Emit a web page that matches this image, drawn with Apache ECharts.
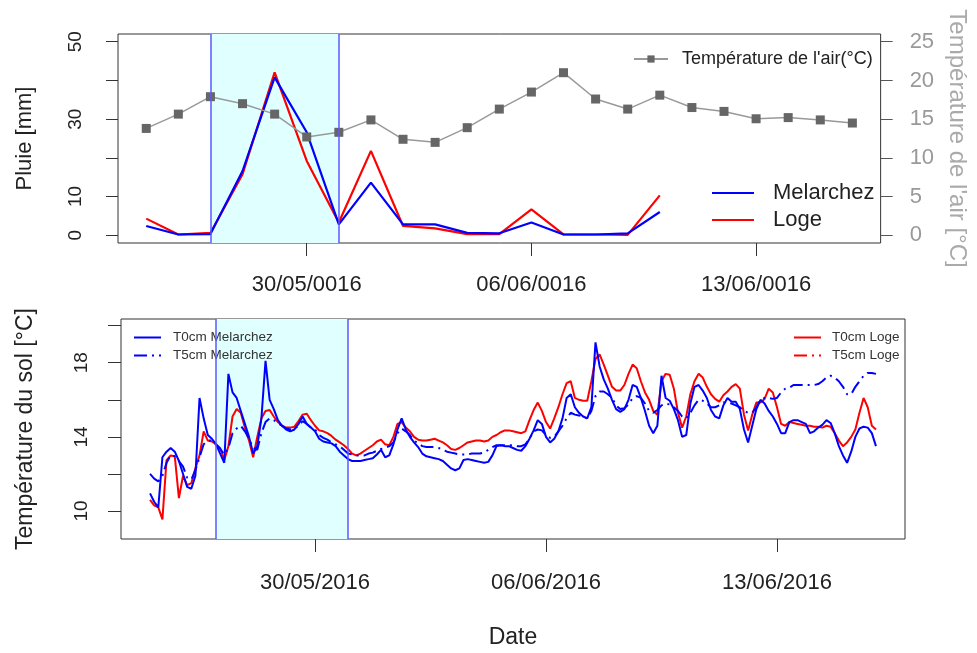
<!DOCTYPE html>
<html>
<head>
<meta charset="utf-8">
<script src="https://cdn.jsdelivr.net/npm/echarts@6/dist/echarts.min.js"></script>
<style>html,body{margin:0;padding:0;background:#fff}#c{width:977px;height:653px}</style>
</head>
<body>
<div id="c"></div>
<script>
// ---------- data ----------
const airDays = ['2016-05-25','2016-05-26','2016-05-27','2016-05-28','2016-05-29','2016-05-30','2016-05-31',
  '2016-06-01','2016-06-02','2016-06-03','2016-06-04','2016-06-05','2016-06-06','2016-06-07','2016-06-08',
  '2016-06-09','2016-06-10','2016-06-11','2016-06-12','2016-06-13','2016-06-14','2016-06-15','2016-06-16'];
const airTemp = [13.8, 15.65, 17.9, 17.0, 15.65, 12.7, 13.3, 14.9, 12.4, 12.0, 13.9, 16.3, 18.5, 21.0, 17.6,
  16.3, 18.1, 16.5, 16.0, 15.05, 15.2, 14.9, 14.5];
const rainDays = airDays.slice(0, 17);
const rainMelarchez = [2.4, 0.2, 0.3, 16.6, 40.8, 26.6, 2.8, 13.6, 2.8, 2.8, 0.6, 0.5, 3.3, 0.2, 0.2, 0.5, 6.0];
const rainLoge = [4.3, 0.2, 0.6, 15.8, 42.1, 19.2, 3.3, 21.8, 2.4, 1.8, 0.3, 0.3, 6.7, 0.2, 0.2, 0.1, 10.3];

// soil temperature, one value every 3 h from 25/05/2016 00:00 (8 values per line = one day)
const soilStart = '2016-05-25';
const soilStepHours = 3;
const t0Melarchez = [
  10.95, 10.5, 10.2, 12.9, 13.2, 13.4, 13.2, 12.7,
  12.0, 11.3, 11.2, 11.9, 16.1, 15.0, 14.1, 13.9,
  13.6, 13.1, 12.6, 17.4, 16.4, 16.1, 15.4, 14.7,
  14.0, 13.1, 13.5, 15.0, 18.1, 16.0, 15.5, 14.9,
  14.6, 14.4, 14.3, 14.4, 14.7, 15.1, 14.7, 14.5,
  14.3, 13.9, 13.75, 13.7, 13.65, 13.5, 13.2, 13.0,
  12.8, 12.7, 12.7, 12.7, 12.75, 12.8, 12.85, 13.05,
  13.3, 12.9, 13.0, 13.6, 14.4, 15.0, 14.4, 14.0,
  13.7, 13.45, 13.1, 12.95, 12.9, 12.85, 12.8, 12.7,
  12.5, 12.3, 12.2, 12.3, 12.75, 12.8, 12.75, 12.7,
  12.65, 12.6, 12.65, 13.0, 13.5, 13.55, 13.5, 13.5,
  13.4, 13.3, 13.25, 13.5, 13.9, 14.35, 14.9, 14.7,
  14.0, 13.7, 13.9, 14.3, 15.0, 16.1, 16.3, 15.6,
  15.3, 15.1, 15.0, 15.6, 19.1, 17.8, 17.1, 16.6,
  16.0, 15.5, 15.35, 15.5, 16.0, 16.8, 16.7, 16.1,
  15.4, 14.6, 14.2, 14.6, 17.3, 16.1, 15.95, 15.5,
  14.9, 14.0, 14.1, 15.8, 16.7, 16.8, 16.5, 16.1,
  15.45, 15.1, 15.0, 15.7, 16.1, 15.9, 15.9, 15.5,
  14.4, 13.7, 14.6, 15.5, 16.0, 15.8, 15.4, 15.1,
  14.7, 14.2, 14.2, 14.8, 14.9, 14.9, 14.8, 14.7,
  14.2, 14.3, 14.5, 14.65, 14.9, 14.75, 14.2, 13.5,
  13.0, 12.6, 13.2, 14.0, 14.45, 14.55, 14.5, 14.2,
  13.5];
const t5Melarchez = [
  12.0, 11.75, 11.6, 11.9, 12.6, 13.0, 12.95, 12.7,
  12.4, 11.8, 11.7, 12.2, 12.9, 13.6, 13.8, 13.8,
  13.6, 13.35, 13.05, 13.4, 14.2, 14.45, 14.6, 14.3,
  13.9, 13.4, 13.3, 14.2, 14.8, 15.0, 14.9, 14.75,
  14.6, 14.45, 14.4, 14.45, 14.6, 14.85, 14.7, 14.5,
  14.4, 14.1, 13.95, 13.85, 13.7, 13.6, 13.5, 13.3,
  13.1, 13.05, 13.0, 13.0, 13.0, 13.1, 13.15, 13.25,
  13.35, 13.4, 13.5, 13.7, 14.2, 14.45, 14.3, 14.1,
  13.8, 13.65, 13.5, 13.45, 13.45, 13.45, 13.4, 13.3,
  13.2, 13.15, 13.1, 13.05, 13.05, 13.05, 13.1, 13.1,
  13.1, 13.15, 13.3, 13.45, 13.55, 13.55, 13.55, 13.55,
  13.55, 13.5, 13.5, 13.6, 13.9, 14.3, 14.4, 14.35,
  14.1, 13.95, 14.0, 14.3, 14.6, 15.0, 15.3, 15.2,
  15.15, 15.1, 15.0, 15.4, 16.2, 16.45, 16.45, 16.3,
  16.1, 15.7, 15.5, 15.55, 15.75, 16.1, 16.2, 16.1,
  15.8, 15.4, 15.3, 15.45, 15.7, 15.8, 15.75, 15.6,
  15.4, 15.1, 15.0, 15.3, 15.7, 16.0, 15.95, 15.8,
  15.6, 15.6, 15.7, 15.85, 15.85, 15.8, 15.7, 15.6,
  15.4, 15.3, 15.3, 15.6, 16.0, 16.1, 16.1, 16.05,
  16.1, 16.4, 16.6, 16.65, 16.8, 16.8, 16.8, 16.8,
  16.8, 16.8, 16.85, 17.0, 17.2, 17.3, 17.2, 17.0,
  16.7, 16.3, 16.3, 16.7, 17.0, 17.3, 17.45, 17.45,
  17.4];
const t0Loge = [
  10.6, 10.3, 10.2, 9.55, 12.75, 13.0, 12.95, 10.7,
  11.9, 11.4, 11.5, 12.3, 13.0, 14.3, 13.8, 13.75,
  13.6, 13.4, 12.75, 13.5, 15.1, 15.5, 15.3, 14.5,
  13.8, 12.9, 14.0, 15.0, 15.4, 15.45, 15.1, 14.8,
  14.6, 14.5, 14.5, 14.55, 14.85, 15.2, 15.25, 14.9,
  14.6, 14.35, 14.3, 14.2, 14.05, 13.85, 13.7, 13.55,
  13.35, 13.1, 13.0, 13.1, 13.25, 13.4, 13.55, 13.75,
  13.85, 13.6, 13.55, 14.0, 14.7, 14.8, 14.5, 14.3,
  14.0, 13.85, 13.8, 13.8, 13.85, 13.9, 13.8, 13.7,
  13.55, 13.35, 13.3, 13.4, 13.55, 13.7, 13.75, 13.8,
  13.8, 13.75, 13.8, 14.0, 14.1, 14.25, 14.35, 14.35,
  14.3, 14.25, 14.2, 14.3, 14.9, 15.45, 15.85, 15.4,
  14.8, 14.45, 15.0, 15.6, 16.3, 16.9, 17.0, 16.1,
  16.0, 15.95, 15.95, 17.0, 18.2, 18.45, 17.9, 17.3,
  16.7, 16.5, 16.5, 16.8, 17.4, 17.9, 17.7, 17.0,
  16.4, 16.0, 15.4, 15.2, 17.0, 17.4, 17.35, 16.6,
  15.3, 14.5, 15.1, 16.3, 17.0, 17.4, 17.2, 16.7,
  16.3, 16.05, 15.9, 16.25, 16.45, 16.7, 16.85, 16.6,
  15.2, 14.35, 15.2, 15.85, 15.85, 16.05, 16.6, 16.4,
  15.6, 14.7, 14.6, 14.8, 14.75, 14.7, 14.65, 14.6,
  14.6, 14.55, 14.55, 14.5, 14.6, 14.55, 14.2, 13.8,
  13.5, 13.7, 14.0, 14.4, 15.3, 16.1, 15.6, 14.6,
  14.4];
const t5Loge = []; // listed in the legend, not visible in the plot

// ticks, labels, shaded period
const xTickDates = ['2016-05-30', '2016-06-06', '2016-06-13'];
const topXTickLabels = ['30/05/0016', '06/06/0016', '13/06/0016'];
const bottomXTickLabels = ['30/05/2016', '06/06/2016', '13/06/2016'];
const rainTicks = [0, 10, 20, 30, 40, 50];
const rainTickLabels = [0, 10, 30, 50];
const airTicks = [0, 5, 10, 15, 20, 25];
const soilTicks = [10, 12, 14, 16, 18, 20];
const soilTickLabels = [10, 14, 18];
const shadeDates = ['2016-05-27', '2016-05-31'];
const xRangeDates = ['2016-05-25', '2016-06-16'];

// ---------- helpers ----------
const T0 = Date.parse(xRangeDates[0] + 'T00:00:00Z');
const hoursOf = s => (Date.parse(s + 'T00:00:00Z') - T0) / 3600000;
const xMinH = hoursOf(xRangeDates[0]), xMaxH = hoursOf(xRangeDates[1]);
const pad = (xMaxH - xMinH) * 0.04;
const xTickHours = xTickDates.map(hoursOf);
const shadeH = shadeDates.map(hoursOf);
const soilT0 = hoursOf(soilStart);
const soilPairs = arr => arr.map((v, i) => [soilT0 + i * soilStepHours, v]);
const dayPairs = (days, arr) => arr.map((v, i) => [hoursOf(days[i]), v]);

const FONT = 'Liberation Sans, Arial, sans-serif';
const DARK = '#222';
const airName = "Température de l'air(°C)";
const dashPat = [13, 5, 2, 5];

function shadeSeries(xi, yi) {
  return {
    type: 'line', xAxisIndex: xi, yAxisIndex: yi, data: [], silent: true, z: 1,
    markArea: { silent: true, itemStyle: { color: '#e0ffff' },
      data: [[{ xAxis: shadeH[0] }, { xAxis: shadeH[1] }]] },
    markLine: { silent: true, symbol: 'none', label: { show: false },
      lineStyle: { color: '#5a5aff', width: 1.5, type: 'solid' },
      data: [{ xAxis: shadeH[0] }, { xAxis: shadeH[1] }] }
  };
}

function xAxisCfg(gi, labels, margin, extra) {
  return Object.assign({
    gridIndex: gi, type: 'value', min: xMinH - pad, max: xMaxH + pad,
    axisLine: { show: false, onZero: false }, splitLine: { show: false },
    axisTick: { show: true, customValues: xTickHours, length: 13, lineStyle: { color: '#333' } },
    axisLabel: { customValues: xTickHours, margin: margin, fontSize: 22, color: DARK, fontFamily: FONT,
      formatter: v => labels[xTickHours.indexOf(v)] }
  }, extra || {});
}

const noSymbol = { opacity: 0 };

const chart = echarts.init(document.getElementById('c'), null, { renderer: 'canvas' });
chart.setOption({
  animation: false,
  backgroundColor: '#fff',
  textStyle: { fontFamily: FONT },
  grid: [
    { left: 118, top: 34, width: 767, height: 209, show: true, borderColor: '#333', borderWidth: 1 },
    { left: 121, top: 319, width: 784, height: 220, show: true, borderColor: '#333', borderWidth: 1 }
  ],
  xAxis: [
    xAxisCfg(0, topXTickLabels, 31),
    xAxisCfg(1, bottomXTickLabels, 33, { name: 'Date', nameLocation: 'middle', nameGap: 87,
      nameTextStyle: { fontSize: 23, color: DARK, fontFamily: FONT } })
  ],
  yAxis: [
    { gridIndex: 0, type: 'value', position: 'left', min: -2, max: 52,
      name: 'Pluie [mm]', nameLocation: 'middle', nameRotate: 90, nameGap: 82,
      nameTextStyle: { fontSize: 22, color: DARK, fontFamily: FONT },
      axisLine: { show: false, onZero: false }, splitLine: { show: false },
      axisTick: { show: true, customValues: rainTicks, length: 12, lineStyle: { color: '#333' } },
      axisLabel: { customValues: rainTickLabels, rotate: 90, margin: 33, fontSize: 19, color: DARK } },
    { gridIndex: 0, type: 'value', position: 'right', min: -1, max: 26,
      name: "Température de l'air [°C]", nameLocation: 'middle', nameRotate: -90, nameGap: 64,
      nameTextStyle: { fontSize: 24, color: '#aaaaaa', fontFamily: FONT },
      axisLine: { show: false, onZero: false }, splitLine: { show: false },
      axisTick: { show: true, customValues: airTicks, length: 12, lineStyle: { color: '#555' } },
      axisLabel: { customValues: airTicks, margin: 29, fontSize: 22, color: '#999' } },
    { gridIndex: 1, type: 'value', position: 'left', min: 8.49, max: 20.36,
      name: 'Température du sol [°C]', nameLocation: 'middle', nameRotate: 90, nameGap: 84,
      nameTextStyle: { fontSize: 23, color: DARK, fontFamily: FONT },
      axisLine: { show: false, onZero: false }, splitLine: { show: false },
      axisTick: { show: true, customValues: soilTicks, length: 13, lineStyle: { color: '#333' } },
      axisLabel: { customValues: soilTickLabels, rotate: 90, margin: 30, fontSize: 19, color: DARK } }
  ],
  legend: [
    { data: [airName], left: 628, top: 45, itemWidth: 34, itemHeight: 9,
      textStyle: { fontSize: 18, color: DARK, padding: [0, 0, 0, 9] } },
    { data: ['Melarchez', 'Loge'], orient: 'vertical', left: 706, top: 177, itemWidth: 42, itemHeight: 14,
      itemGap: 5, itemStyle: noSymbol, textStyle: { fontSize: 22, color: DARK, padding: [0, 0, 0, 14] } },
    { data: ['T0cm Melarchez', 'T5cm Melarchez'], orient: 'vertical', left: 128, top: 325.5,
      itemWidth: 27, itemHeight: 10, itemGap: 4, itemStyle: noSymbol,
      textStyle: { fontSize: 13.5, color: '#333', padding: [0, 0, 0, 7] } },
    { data: ['T0cm Loge', 'T5cm Loge'], orient: 'vertical', left: 788, top: 325.5,
      itemWidth: 27, itemHeight: 10, itemGap: 4, itemStyle: noSymbol,
      textStyle: { fontSize: 13.5, color: '#333', padding: [0, 0, 0, 6] } }
  ],
  series: [
    shadeSeries(0, 0),
    { name: 'Melarchez', type: 'line', xAxisIndex: 0, yAxisIndex: 0, z: 3, symbol: 'none',
      data: dayPairs(rainDays, rainMelarchez), color: '#0000ff', lineStyle: { color: '#0000ff', width: 2.2 } },
    { name: 'Loge', type: 'line', xAxisIndex: 0, yAxisIndex: 0, z: 2, symbol: 'none',
      data: dayPairs(rainDays, rainLoge), color: '#ff0000', lineStyle: { color: '#ff0000', width: 2.2 } },
    { name: airName, type: 'line', xAxisIndex: 0, yAxisIndex: 1, z: 4, symbol: 'rect', symbolSize: 9,
      data: dayPairs(airDays, airTemp), color: '#666',
      itemStyle: { color: '#666' }, lineStyle: { color: '#999', width: 1.5 } },
    shadeSeries(1, 2),
    { name: 'T5cm Loge', type: 'line', xAxisIndex: 1, yAxisIndex: 2, z: 2, symbol: 'none',
      data: soilPairs(t5Loge), color: '#ff0000', lineStyle: { color: '#ff0000', width: 2, type: dashPat } },
    { name: 'T0cm Loge', type: 'line', xAxisIndex: 1, yAxisIndex: 2, z: 2, symbol: 'none',
      data: soilPairs(t0Loge), color: '#ff0000', lineStyle: { color: '#ff0000', width: 2 } },
    { name: 'T0cm Melarchez', type: 'line', xAxisIndex: 1, yAxisIndex: 2, z: 3, symbol: 'none',
      data: soilPairs(t0Melarchez), color: '#0000ff', lineStyle: { color: '#0000ff', width: 2 } },
    { name: 'T5cm Melarchez', type: 'line', xAxisIndex: 1, yAxisIndex: 2, z: 3, symbol: 'none',
      data: soilPairs(t5Melarchez), color: '#0000ff', lineStyle: { color: '#0000ff', width: 2, type: dashPat } }
  ]
});
</script>
</body>
</html>
